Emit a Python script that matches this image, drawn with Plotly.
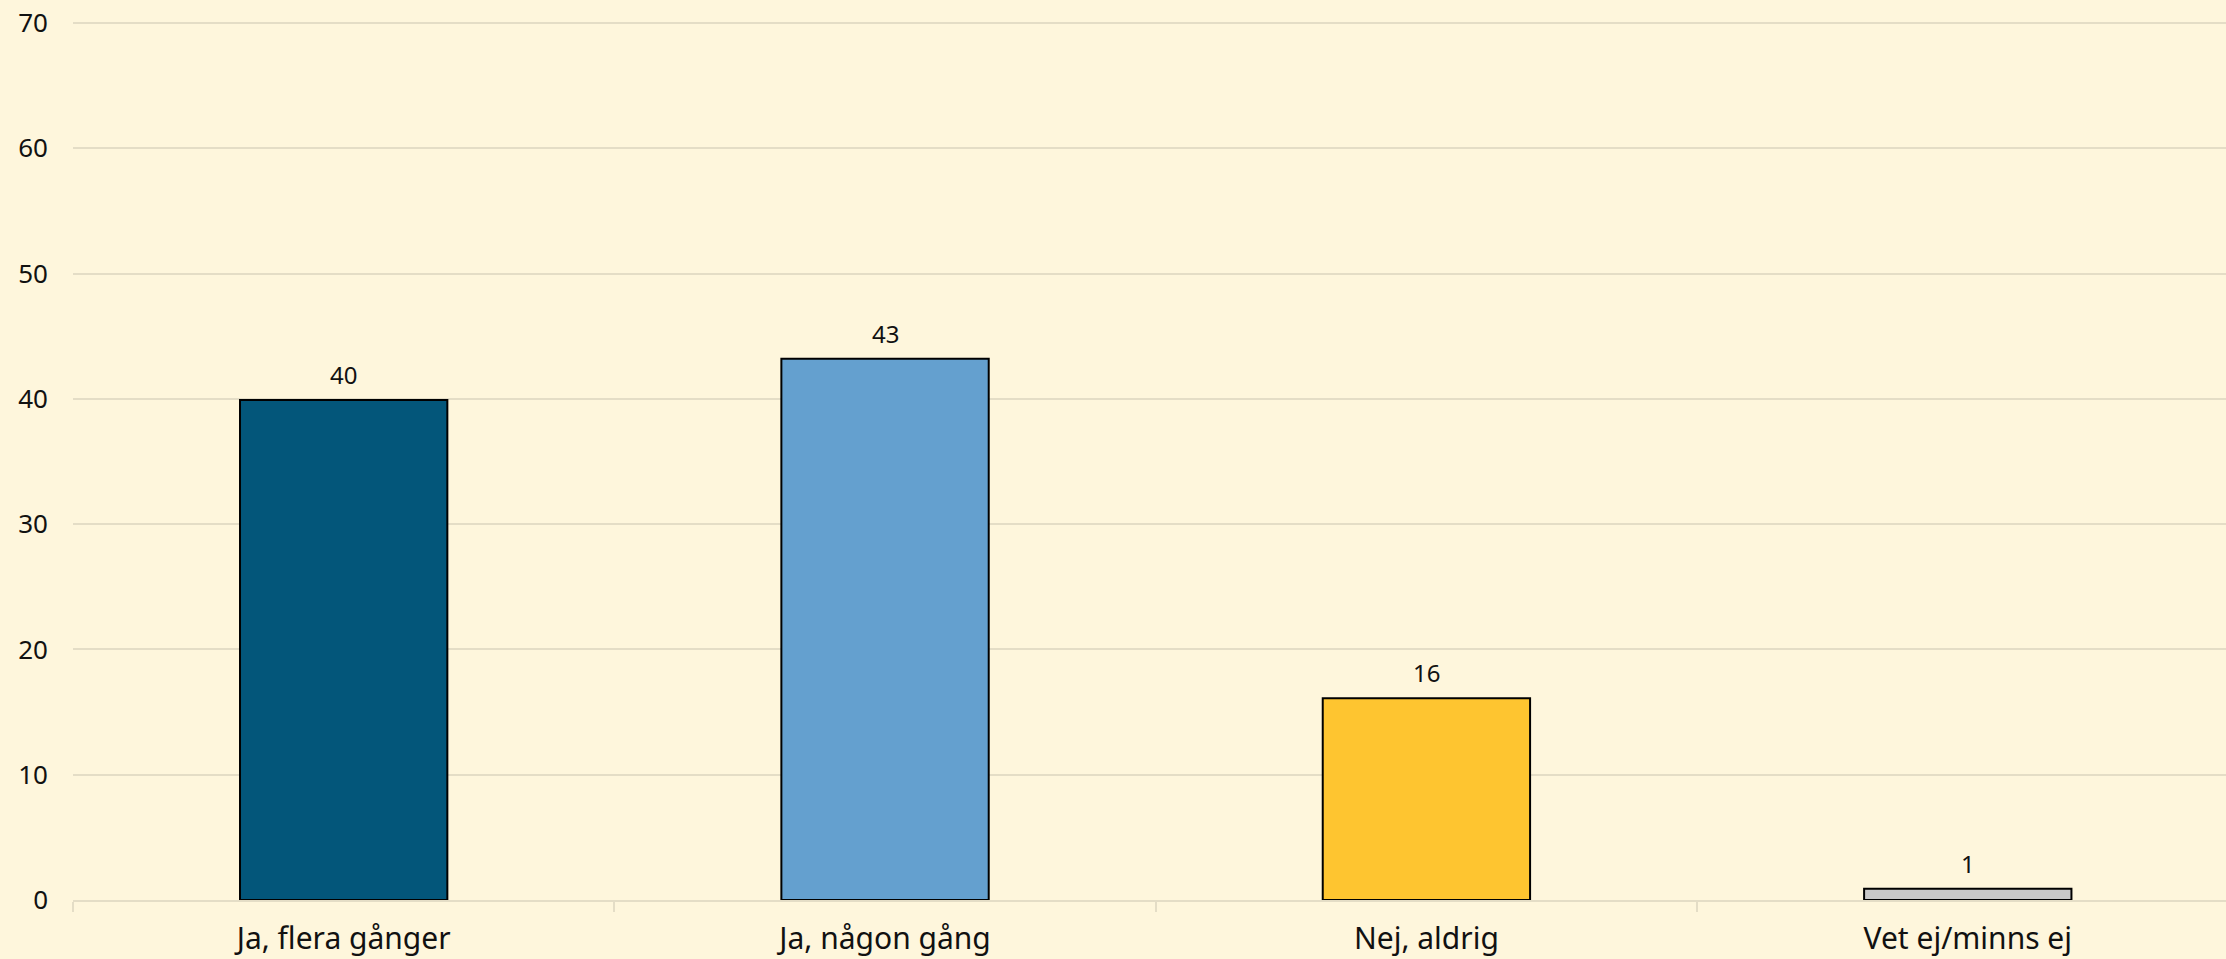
import plotly.graph_objects as go

categories = ["Ja, flera gånger", "Ja, någon gång", "Nej, aldrig", "Vet ej/minns ej"]
values = [39.9, 43.2, 16.1, 0.9]
labels = ["40", "43", "16", "1"]
colors = ["#03567A", "#64A0CF", "#FEC530", "#C8C8C8"]
y_ticks = [0, 10, 20, 30, 40, 50, 60, 70]

BG = "#FEF6DC"
GRID = "#E4DDC6"
FONT = "Noto Sans"

fig = go.Figure()
fig.add_trace(go.Bar(
    x=categories, y=values,
    marker=dict(color=colors, line=dict(color="#000000", width=2)),
    showlegend=False, hoverinfo="skip",
))

for cat, val, lab in zip(categories, values, labels):
    fig.add_annotation(
        x=cat, y=val, text=lab, showarrow=False,
        xanchor="center", yanchor="bottom", yshift=7,
        font=dict(family=FONT, size=24, color="#111111"),
    )

fig.update_layout(
    width=2226, height=959,
    paper_bgcolor=BG, plot_bgcolor=BG,
    margin=dict(l=73, r=0, t=21, b=59, autoexpand=False),
    bargap=0.617,
    font=dict(family=FONT, color="#111111"),
)
fig.update_xaxes(
    range=[-0.5, 3.477],
    tickson="boundaries", ticks="outside", ticklen=10, tickwidth=2, tickcolor=GRID,
    showline=True, linecolor=GRID, linewidth=2,
    showgrid=False,
    ticklabelstandoff=11,
    tickfont=dict(family=FONT, size=30, color="#111111"),
)
fig.update_yaxes(
    range=[0, 70.16], tickvals=y_ticks,
    showgrid=True, gridcolor=GRID, gridwidth=2,
    zeroline=False, showline=False, ticks="",
    ticklabelstandoff=24,
    tickfont=dict(family=FONT, size=26, color="#111111"),
)

fig.write_html("out.html", config={"displayModeBar": False},
               post_script="document.body.style.margin='0';")
